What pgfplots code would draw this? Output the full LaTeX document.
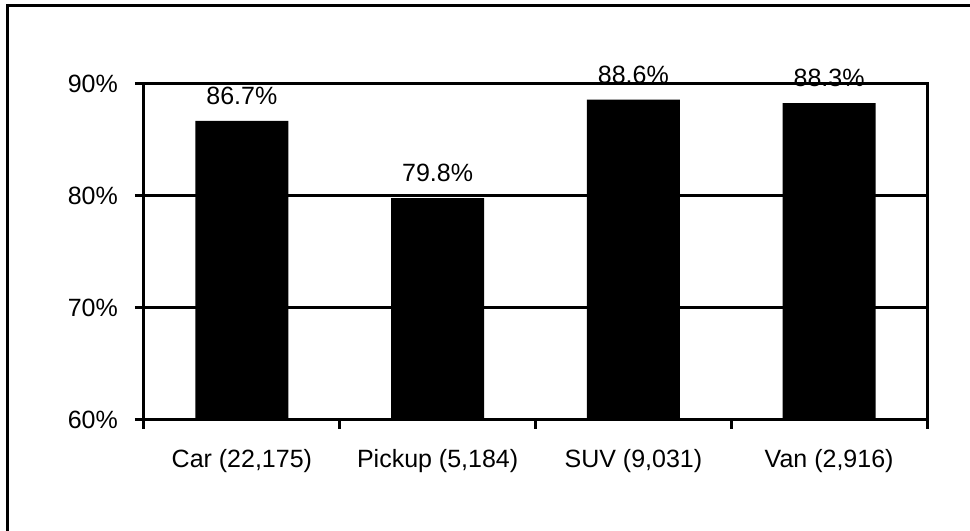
\documentclass[border=0pt]{standalone}
\usepackage{fontspec}
\setmainfont{Liberation Sans}
\usepackage{pgfplots}
\pgfplotsset{compat=1.18}
\pgfplotsset{/pgf/number format/assume math mode=true}

\begin{document}
\begin{tikzpicture}[x=1bp, y=1bp, font=\fontsize{25bp}{30bp}\selectfont]
	% axis box has its lower left corner at the origin
	\useasboundingbox (-144,-111) rectangle (826,420);
	% chart frame: only left and top edges fall inside the picture
	\draw[line width=3bp] (-136.5,-111) -- (-136.5,414.5) -- (826,414.5);
	\begin{axis}[
			scale only axis,
			width             = 783bp,
			height            = 336bp,
			xmin              = -0.5,
			xmax              = 3.5,
			ymin              = 0,
			ymax              = 30,
			y filter/.expression = {y-60},
			ybar,
			bar width         = 93bp,
			xtick             = {-0.5,0.5,1.5,2.5,3.5},
			xticklabels       = {{Car (22,175)}, {Pickup (5,184)}, {SUV (9,031)}, {Van (2,916)}},
			x tick label as interval,
			ytick             = {0,10,20,30},
			yticklabels       = {60\%,70\%,80\%,90\%},
			tick align        = outside,
			tick pos          = left,
			major tick length = 9bp,
			ymajorgrids,
			grid style        = {line width=3bp, black},
			axis line style   = {line width=3bp},
			tick style        = {line width=3bp, black},
			tick label style  = {font=\fontsize{25bp}{30bp}\selectfont},
			yticklabel style  = {inner sep=0pt, xshift=-17bp},
			xticklabel style  = {inner sep=0pt, yshift=-20bp},
			point meta        = rawy,
			nodes near coords = {\pgfmathprintnumber[fixed,fixed zerofill,precision=1]{\pgfplotspointmeta}\%},
			every node near coord/.append style = {inner sep=0pt, yshift=16bp, font=\fontsize{25bp}{30bp}\selectfont},
			clip              = false
		]

		\addplot [fill=black, draw=none]
		coordinates {(0,86.7) (1,79.8) (2,88.6) (3,88.3)};
	\end{axis}
\end{tikzpicture}
\end{document}
